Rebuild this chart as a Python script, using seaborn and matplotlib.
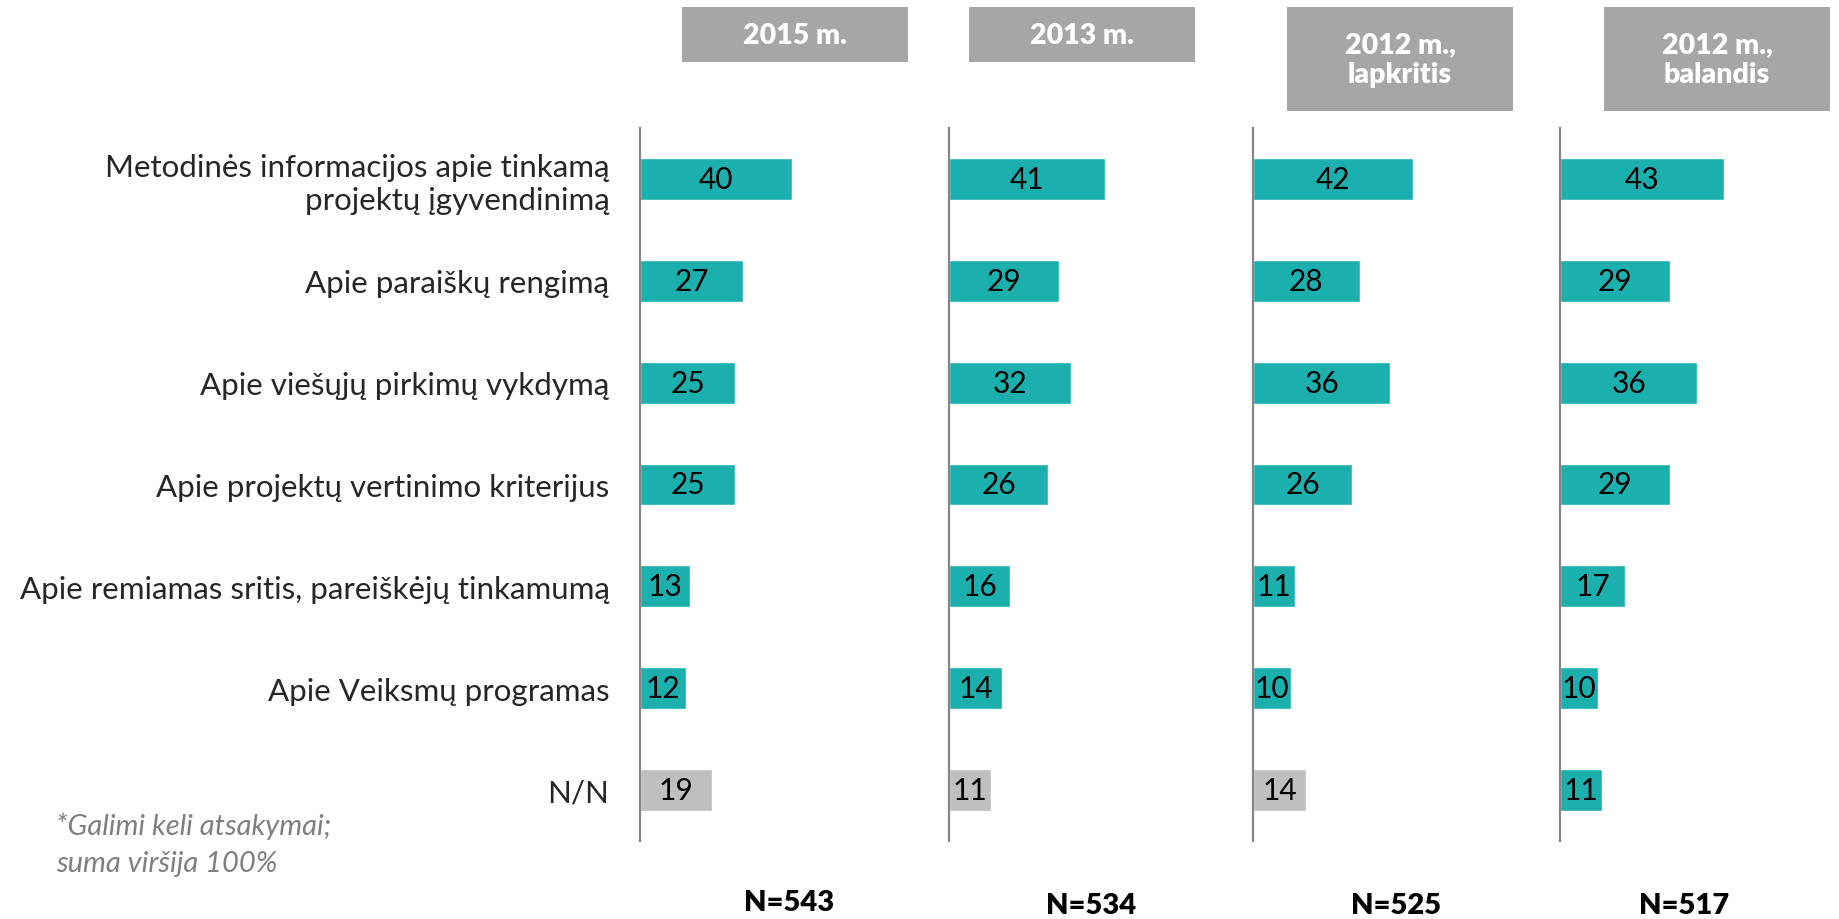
import numpy as np
import pandas as pd
import matplotlib.pyplot as plt
import seaborn as sns

# categories and values
categories = ["Metodinės informacijos apie tinkamą\nprojektų įgyvendinimą",
              "Apie paraiškų rengimą",
              "Apie viešųjų pirkimų vykdymą",
              "Apie projektų vertinimo kriterijus",
              "Apie remiamas sritis, pareiškėjų tinkamumą",
              "Apie Veiksmų programas",
              "N/N"]
panel_titles = ["2015 m.", "2013 m.", "2012 m.,\nlapkritis", "2012 m.,\nbalandis"]
vals_2015 = [40, 27, 25, 25, 13, 12, 19]
vals_2013 = [41, 29, 32, 26, 16, 14, 11]
vals_2012_lapkritis = [42, 28, 36, 26, 11, 10, 14]
vals_2012_balandis = [43, 29, 36, 29, 17, 10, 11]
sample_sizes = ["N=543", "N=534", "N=525", "N=517"]

teal = "#1BB0AE"
grey = "#BFBFBF"

sns.set_style("white")
plt.rcParams['font.family'] = ['Lato', 'DejaVu Sans']

fig = plt.figure(figsize=(18.39, 9.2), dpi=100)
W, H = 1839, 920

# layout (pixels)
axis_x = [640, 949, 1253, 1560]
box_x = [682, 969, 1287, 1604]
box_h = [55, 55, 104, 104]
n_x = [789, 1091, 1396, 1684]
n_y = [903, 906, 906, 906]
xmax = 70
px_per_unit = 3.81
ax_top, ax_bot = 129, 842

all_vals = [vals_2015, vals_2013, vals_2012_lapkritis, vals_2012_balandis]
for i, vals in enumerate(all_vals):
    ax = fig.add_axes([axis_x[i] / W, 1 - ax_bot / H,
                       xmax * px_per_unit / W, (ax_bot - ax_top) / H])
    last_color = teal if i == 3 else grey
    colors = [teal] * 6 + [last_color]
    df = pd.DataFrame({"cat": categories, "val": vals})
    sns.barplot(data=df, x="val", y="cat", hue="cat", palette=colors,
                legend=False, width=0.41, saturation=1, ax=ax)
    for cont in ax.containers:
        ax.bar_label(cont, label_type="center", fontsize=21.5, color="black")
    ax.set_xlim(0, xmax)
    ax.set_ylim(6.5, -0.5)
    ax.set_xlabel("")
    ax.set_ylabel("")
    ax.set_xticks([])
    for s in ["top", "right", "bottom"]:
        ax.spines[s].set_visible(False)
    ax.spines["left"].set_color("#868686")
    ax.spines["left"].set_linewidth(1.6)
    if i == 0:
        ax.tick_params(axis="y", which="major", length=0, pad=22, labelsize=22.5)
        ax.set_yticks(np.arange(-0.5, 7, 1), minor=True)
        ax.tick_params(axis="y", which="minor", length=7, width=1.4, color="#868686")
    else:
        ax.set_yticks([])

    # grey header box
    fig.patches.append(plt.Rectangle((box_x[i] / W, 1 - (8 + box_h[i]) / H),
                                     226 / W, box_h[i] / H, transform=fig.transFigure,
                                     facecolor="#A6A6A6", edgecolor="none"))
    fig.text((box_x[i] + 113) / W, 1 - (8 + box_h[i] / 2) / H, panel_titles[i],
             ha="center", va="center", color="white", fontsize=20.5,
             fontweight="heavy", linespacing=1.15)
    fig.text(n_x[i] / W, 1 - n_y[i] / H, sample_sizes[i], ha="center", va="center",
             fontsize=21, fontweight="heavy", color="black")

fig.text(56 / W, 1 - 826 / H, "*Galimi keli atsakymai;", ha="left", va="center",
         fontsize=21, style="italic", color="#7F7F7F")
fig.text(56 / W, 1 - 864 / H, "suma viršija 100%", ha="left", va="center",
         fontsize=21, style="italic", color="#7F7F7F")

plt.savefig("out.png", dpi=100)
